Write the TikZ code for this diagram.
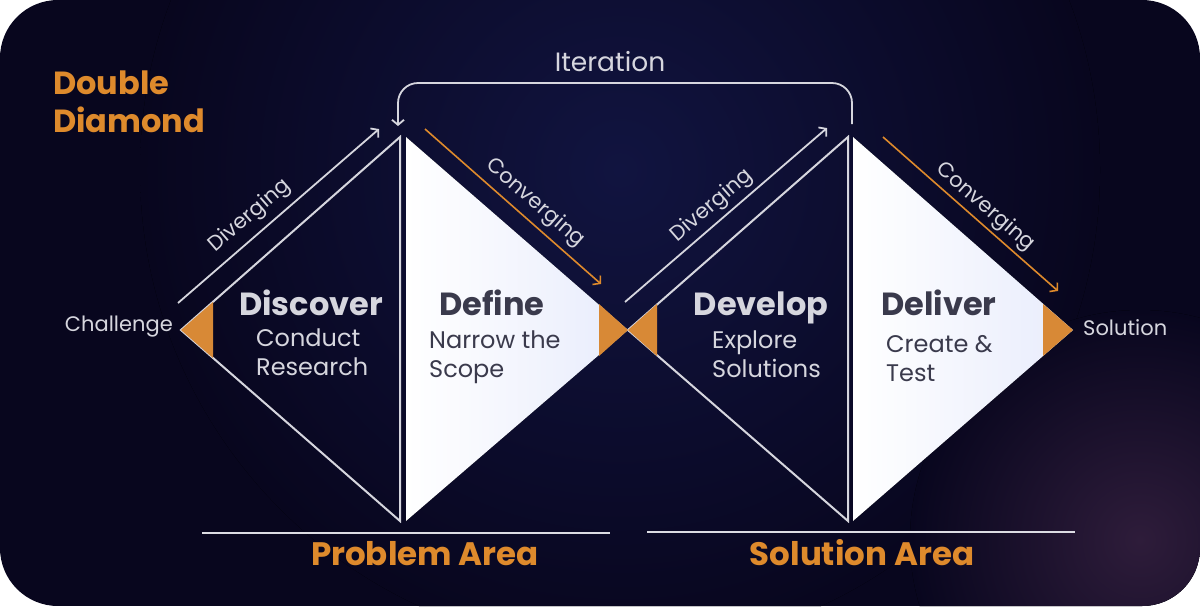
\documentclass[tikz,border=0pt]{standalone}
\usepackage{fontspec}
\setmainfont{Poppins}
\usetikzlibrary{arrows.meta,calc}

\definecolor{bgc}{HTML}{08061E}
\definecolor{glowc}{HTML}{111440}
\definecolor{plum}{HTML}{2E1C3A}
\definecolor{accent}{HTML}{DE8A2C}
\definecolor{wedge}{HTML}{D88936}
\definecolor{ink}{HTML}{D6D6DE}
\definecolor{darkink}{HTML}{3A3A4C}
\definecolor{lav}{HTML}{E8ECFC}

% soft glows: the shading box spans the circle's bounding box, 25bp is its rim
\pgfdeclareradialshading{glowshade}{\pgfpoint{0bp}{0bp}}{color(0bp)=(glowc); color(25bp)=(bgc); color(50bp)=(bgc)}
\pgfdeclareradialshading{plumshade}{\pgfpoint{0bp}{0bp}}{color(0bp)=(plum); color(25bp)=(bgc); color(50bp)=(bgc)}

\tikzset{
  outline/.style={draw=ink, line width=2pt, line join=miter},
  panel/.style={left color=white, right color=lav},
  marker/.style={fill=wedge},
  flowarrow/.style={draw=ink, line width=1.8pt, -{Straight Barb[length=5pt,width=12pt,line width=1.8pt]}},
  convarrow/.style={draw=accent, line width=1.6pt, -{Straight Barb[length=5pt,width=12pt,line width=1.6pt]}},
  heading/.style={font=\fontsize{32}{34}\selectfont\bfseries, inner sep=0pt},
  sub/.style={font=\fontsize{24}{29}\selectfont, align=left, inner sep=0pt},
  edge label/.style={font=\fontsize{21}{24}\selectfont, text=ink, inner sep=0pt},
  area/.style={font=\fontsize{32.5}{34}\selectfont\bfseries, text=accent, inner sep=0pt},
  rule/.style={draw=ink!85, line width=1.5pt}
}

\begin{document}
\begin{tikzpicture}[x=1pt, y=-1pt]
  \useasboundingbox (0,0) rectangle (1200,606);

  % backdrop
  \fill[white] (0,0) rectangle (1200,606);
  \begin{scope}
    \clip[rounded corners=58pt] (0,0) rectangle (1200,606);
    \fill[bgc] (0,0) rectangle (1200,606);
    \fill[shading=glowshade] (620,170) circle (480);
    \fill[shading=plumshade] (1140,540) circle (230);
  \end{scope}

  % corner points of the two diamonds
  \coordinate (start) at (181,330);
  \coordinate (top1)  at (400,137);
  \coordinate (bot1)  at (400,521);
  \coordinate (mid)   at (628,330);
  \coordinate (top2)  at (848,137);
  \coordinate (bot2)  at (848,521);
  \coordinate (end)   at (1073,330);

  % first diamond: open half and filled half
  \draw[outline] (start) -- (top1) -- (bot1) -- cycle;
  \fill[panel] ($(top1)+(6,0)$) -- (mid) -- ($(bot1)+(6,0)$) -- cycle;

  % second diamond
  \draw[outline] (mid) -- (top2) -- (bot2) -- cycle;
  \fill[panel] ($(top2)+(5,0)$) -- (end) -- ($(bot2)+(5,0)$) -- cycle;

  % orange markers at the diamond tips
  \fill[marker] (start) -- (213,302) -- (213,358) -- cycle;
  \fill[marker] (mid) -- (599,304) -- (599,356) -- cycle;
  \fill[marker] (mid) -- (657,304) -- (657,356) -- cycle;
  \fill[marker] (end) -- (1043,304) -- (1043,356) -- cycle;

  % diverging / converging arrows
  \coordinate (d1s) at (178,303);  \coordinate (d1e) at (379,129);
  \coordinate (c1s) at (425,129);  \coordinate (c1e) at (601,284);
  \coordinate (d2s) at (625,302);  \coordinate (d2e) at (827,128);
  \coordinate (c2s) at (883,137);  \coordinate (c2e) at (1058,291);
  \draw[flowarrow] (d1s) -- (d1e);
  \draw[convarrow] (c1s) -- (c1e);
  \draw[flowarrow] (d2s) -- (d2e);
  \draw[convarrow] (c2s) -- (c2e);

  \node[edge label, rotate=41]  (div1) at (250,216) {Diverging};
  \node[edge label, rotate=-41] (con1) at (535,203) {Converging};
  \node[edge label, rotate=41]  (div2) at (712,206) {Diverging};
  \node[edge label, rotate=-41] (con2) at (985,207) {Converging};

  % iteration loop
  \coordinate (itS) at (852,124);
  \coordinate (itE) at (398,126);
  \draw[flowarrow, rounded corners=20pt] (itS) |- (625,83) -| (itE);
  \node[font=\fontsize{26.5}{28}\selectfont, text=ink, inner sep=0pt] (iter) at (610,62) {Iteration};

  % title
  \node[font=\fontsize{32}{38}\selectfont\bfseries, text=accent, align=left, anchor=north west, inner sep=0pt] (title) at (53,71) {Double\\Diamond};

  % end labels
  \node[edge label, anchor=east] (challenge) at (173,327) {Challenge};
  \node[edge label, anchor=west] (solution) at (1083,328) {Solution};

  % phase headings and descriptions
  \node[heading, text=ink, anchor=base] (discover) at (311,315) {Discover};
  \node[sub, text=ink, anchor=north west] (discoverSub) at (256,329) {Conduct\\Research};

  \node[heading, text=darkink, anchor=base] (define) at (492,315) {Define};
  \node[sub, text=darkink, anchor=north west] (defineSub) at (429,331) {Narrow the\\Scope};

  \node[heading, text=ink, anchor=base] (develop) at (761,315) {Develop};
  \node[sub, text=ink, anchor=north west] (developSub) at (712,331) {Explore\\Solutions};

  \node[heading, text=darkink, anchor=base] (deliver) at (939,315) {Deliver};
  \node[sub, text=darkink, anchor=north west] (deliverSub) at (886,335) {Create \&\\Test};

  % area rules and captions
  \coordinate (pl) at (202,533); \coordinate (pr) at (610,533);
  \coordinate (sl) at (647,532); \coordinate (sr) at (1075,532);
  \draw[rule] (pl) -- (pr);
  \draw[rule] (sl) -- (sr);
  \node[area, anchor=base] (problem) at (425,565) {Problem Area};
  \node[area, anchor=base] (solarea) at (862,565) {Solution Area};
\end{tikzpicture}
\end{document}
